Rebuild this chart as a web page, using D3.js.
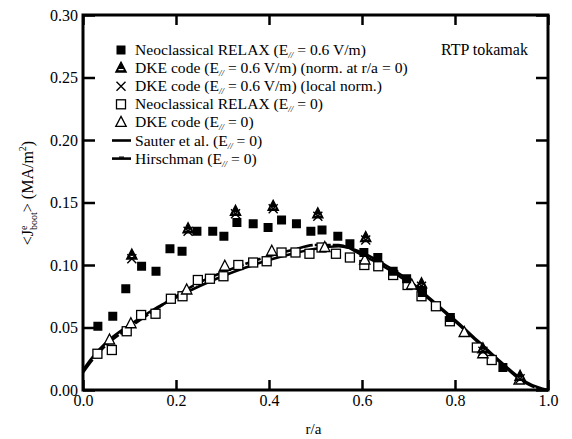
<!DOCTYPE html>
<html>
<head>
<meta charset="utf-8">
<script src="https://cdn.jsdelivr.net/npm/d3@7"></script>
<style>
  body { margin: 0; background: #fff; }
  svg text { font-family: "Liberation Serif", "DejaVu Serif", Times, serif; fill: #000; }
</style>
</head>
<body>
<script>
// plot box
var margin = {top: 15, right: 24, bottom: 49, left: 83};
var width = 572 - margin.left - margin.right;
var height = 439 - margin.top - margin.bottom;
var serif = "'Liberation Serif', 'DejaVu Serif', Times, serif";

// x ticks / y ticks
var xTicks = [0, 0.2, 0.4, 0.6, 0.8, 1.0];
var yTicks = [0, 0.05, 0.10, 0.15, 0.20, 0.25, 0.30];

// Neoclassical RELAX, E = 0.6 V/m (filled squares)
var relaxE6_r = [0.032, 0.064, 0.092, 0.126, 0.157, 0.187, 0.213, 0.245, 0.279, 0.303, 0.331, 0.366, 0.398, 0.427, 0.459, 0.490, 0.514, 0.548, 0.574, 0.604, 0.634, 0.667, 0.696, 0.730, 0.790, 0.903];
var relaxE6_j = [0.051, 0.059, 0.081, 0.099, 0.095, 0.113, 0.111, 0.127, 0.127, 0.123, 0.134, 0.133, 0.130, 0.136, 0.133, 0.127, 0.128, 0.123, 0.117, 0.110, 0.106, 0.095, 0.089, 0.078, 0.058, 0.018];

// DKE code, E = 0.6 V/m, norm. at r/a = 0 (filled triangles)
var dkeNorm_r = [0.105, 0.226, 0.328, 0.409, 0.505, 0.608, 0.728, 0.860, 0.940];
var dkeNorm_j = [0.108, 0.129, 0.143, 0.147, 0.141, 0.122, 0.085, 0.033, 0.011];

// DKE code, E = 0.6 V/m, local norm. (crosses)
var dkeLocal_r = [0.105, 0.226, 0.328, 0.409, 0.505, 0.608, 0.728, 0.860, 0.940];
var dkeLocal_j = [0.105, 0.127, 0.141, 0.145, 0.139, 0.120, 0.083, 0.031, 0.009];

// Neoclassical RELAX, E = 0 (open squares)
var relaxE0_r = [0.031, 0.062, 0.094, 0.125, 0.156, 0.189, 0.214, 0.247, 0.273, 0.302, 0.334, 0.366, 0.395, 0.427, 0.457, 0.487, 0.513, 0.544, 0.574, 0.605, 0.635, 0.667, 0.698, 0.728, 0.759, 0.789, 0.847, 0.879];
var relaxE0_j = [0.029, 0.032, 0.047, 0.060, 0.061, 0.073, 0.075, 0.088, 0.089, 0.091, 0.100, 0.102, 0.103, 0.110, 0.110, 0.109, 0.114, 0.109, 0.106, 0.100, 0.099, 0.092, 0.084, 0.075, 0.067, 0.055, 0.034, 0.024];

// DKE code, E = 0 (open triangles)
var dkeE0_r = [0.057, 0.103, 0.223, 0.305, 0.406, 0.520, 0.606, 0.707, 0.820, 0.860, 0.938];
var dkeE0_j = [0.040, 0.053, 0.080, 0.099, 0.111, 0.114, 0.104, 0.084, 0.046, 0.029, 0.008];

// Sauter et al. and Hirschman (E = 0) curves
var curve_r = [0, 0.02, 0.05, 0.10, 0.15, 0.20, 0.25, 0.30, 0.35, 0.40, 0.45, 0.50, 0.55, 0.60, 0.65, 0.70, 0.75, 0.80, 0.85, 0.90, 0.95, 0.98, 1.0];
var sauter_j = [0.016, 0.026, 0.038, 0.052, 0.064, 0.074, 0.083, 0.091, 0.098, 0.104, 0.109, 0.113, 0.115, 0.110, 0.100, 0.088, 0.072, 0.056, 0.039, 0.022, 0.007, 0.002, 0];
var hirsch_j = [0.014, 0.024, 0.036, 0.050, 0.063, 0.075, 0.086, 0.094, 0.101, 0.107, 0.112, 0.116, 0.116, 0.108, 0.098, 0.086, 0.071, 0.055, 0.038, 0.021, 0.006, 0.001, 0];

function zip(a, b) { return a.map(function(d, i) { return [d, b[i]]; }); }

var svg = d3.select("body").append("svg")
  .attr("width", 572).attr("height", 439)
  .attr("font-family", serif);

var g = svg.append("g")
  .attr("transform", "translate(" + margin.left + "," + margin.top + ")");

var x = d3.scaleLinear().domain([0, 1]).range([0, width]);
var y = d3.scaleLinear().domain([0, 0.30]).range([height, 0]);

// curves
var line = d3.line().x(function(d) { return x(d[0]); }).y(function(d) { return y(d[1]); })
  .curve(d3.curveMonotoneX);

g.append("path").datum(zip(curve_r, sauter_j))
  .attr("d", line).attr("fill", "none").attr("stroke", "#000").attr("stroke-width", 2.6);
g.append("path").datum(zip(curve_r, hirsch_j))
  .attr("d", line).attr("fill", "none").attr("stroke", "#000").attr("stroke-width", 2.6)
  .attr("stroke-dasharray", "16,2");

// marker drawing helpers
function square(sel, filled) {
  sel.append("rect").attr("x", -4.5).attr("y", -4.5).attr("width", 9).attr("height", 9)
    .attr("fill", filled ? "#000" : "#fff").attr("stroke", "#000").attr("stroke-width", filled ? 0 : 1.3);
}
function triangle(sel, filled) {
  sel.append("path").attr("d", "M0,-6L5.2,4L-5.2,4Z")
    .attr("fill", filled ? "#000" : "#fff").attr("stroke", "#000").attr("stroke-width", 1.3);
  if (filled) {
    sel.append("path").attr("d", "M-2.5,1.5L2.5,1.5").attr("stroke", "#fff").attr("stroke-width", 1.2);
  }
}
function cross(sel) {
  sel.append("path").attr("d", "M-4.5,-4.5L4.5,4.5M-4.5,4.5L4.5,-4.5")
    .attr("stroke", "#000").attr("stroke-width", 1.4).attr("fill", "none");
}

function plotPoints(rs, js, draw, opt) {
  g.append("g").selectAll("g").data(zip(rs, js)).enter().append("g")
    .attr("transform", function(d) { return "translate(" + x(d[0]) + "," + y(d[1]) + ")"; })
    .each(function() { draw(d3.select(this), opt); });
}

plotPoints(relaxE0_r, relaxE0_j, square, false);
plotPoints(dkeE0_r, dkeE0_j, triangle, false);
plotPoints(relaxE6_r, relaxE6_j, square, true);
plotPoints(dkeNorm_r, dkeNorm_j, triangle, true);
plotPoints(dkeLocal_r, dkeLocal_j, cross);

// axes (ticks inside)
function styleAxis(a) {
  a.attr("font-family", serif).attr("font-size", 16);
  a.select(".domain").remove();
  a.selectAll(".tick line").attr("stroke", "#000").attr("stroke-width", 2.5);
}
var fmt2 = d3.format(".2f"), fmt1 = d3.format(".1f");

g.append("g").call(d3.axisLeft(y).tickValues(yTicks).tickSize(-12).tickPadding(5).tickFormat(fmt2))
  .call(styleAxis);
g.append("g").attr("transform", "translate(" + width + ",0)")
  .call(d3.axisRight(y).tickValues(yTicks).tickSize(-12).tickFormat(""))
  .call(styleAxis);
g.append("g").attr("transform", "translate(0," + height + ")")
  .call(d3.axisBottom(x).tickValues(xTicks).tickSize(-10).tickPadding(5).tickFormat(fmt1))
  .call(styleAxis);
g.append("g")
  .call(d3.axisTop(x).tickValues(xTicks).tickSize(-10).tickFormat(""))
  .call(styleAxis);

// frame
g.append("rect").attr("width", width).attr("height", height)
  .attr("fill", "none").attr("stroke", "#000").attr("stroke-width", 3);

// axis titles
svg.append("text").attr("x", margin.left + width / 2 - 2).attr("y", 434)
  .attr("text-anchor", "middle").attr("font-size", 15).text("r/a");

var yl = svg.append("text").attr("transform", "translate(33,193) rotate(-90)")
  .attr("text-anchor", "middle").attr("font-size", 16);
yl.append("tspan").text("<J");
yl.append("tspan").attr("dy", -6).attr("font-size", 10).text("e");
yl.append("tspan").attr("dy", 10).attr("dx", -4.5).attr("font-size", 10).text("boot");
yl.append("tspan").attr("dy", -4).text("> (MA/m");
yl.append("tspan").attr("dy", -7).attr("font-size", 10).text("2");
yl.append("tspan").attr("dy", 7).text(")");

svg.append("text").attr("x", 441).attr("y", 55).attr("font-size", 16).text("RTP tokamak");

// legend
var legendLabels = [
  ["Neoclassical RELAX (E", " = 0.6 V/m)"],
  ["DKE code (E", " = 0.6 V/m) (norm. at r/a = 0)"],
  ["DKE code (E", " = 0.6 V/m) (local norm.)"],
  ["Neoclassical RELAX (E", " = 0)"],
  ["DKE code (E", " = 0)"],
  ["Sauter et al. (E", " = 0)"],
  ["Hirschman (E", " = 0)"]
];
var legendMarks = [
  function(s) { square(s, true); },
  function(s) { triangle(s, true); },
  function(s) { cross(s); },
  function(s) { square(s, false); },
  function(s) { triangle(s, false); },
  function(s) { s.append("path").attr("d", "M-9,0H10").attr("stroke", "#000").attr("stroke-width", 2.6); },
  function(s) { s.append("path").attr("d", "M-9,0H10").attr("stroke", "#000").attr("stroke-width", 2.6);
                s.append("path").attr("d", "M-2,-1.5H3").attr("stroke", "#000").attr("stroke-width", 1.2); }
];
var leg = svg.append("g").attr("transform", "translate(121,50)");
legendLabels.forEach(function(lab, i) {
  var row = leg.append("g").attr("transform", "translate(0," + (i * 18.1) + ")");
  legendMarks[i](row);
  var t = row.append("text").attr("x", 14).attr("y", 5).attr("font-size", 15.6);
  t.append("tspan").text(lab[0]);
  t.append("tspan").attr("dy", 3).attr("font-size", 9).attr("font-style", "italic").text("//");
  t.append("tspan").attr("dy", -3).text(lab[1]);
});
</script>
</body>
</html>
